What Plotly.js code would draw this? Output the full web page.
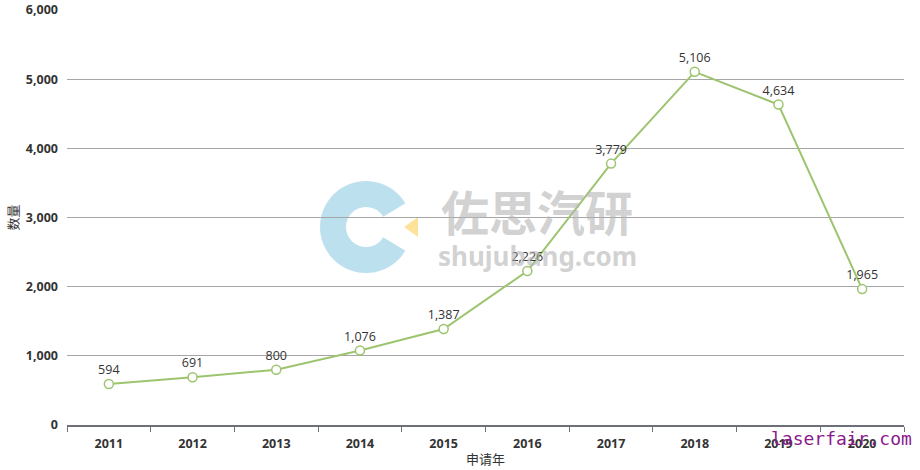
<!DOCTYPE html>
<html><head><meta charset="utf-8">
<script src="https://cdn.plot.ly/plotly-3.0.1.min.js"></script>
<style>html,body{margin:0;padding:0;background:#fff}#chart{width:920px;height:470px}</style>
</head><body><div id="chart"></div>
<script>
const years = ['2011','2012','2013','2014','2015','2016','2017','2018','2019','2020'];
const counts = [594, 691, 800, 1076, 1387, 2226, 3779, 5106, 4634, 1965];
const yTicks = [0, 1000, 2000, 3000, 4000, 5000, 6000];

const L = 67, R = 904, T = 10, B = 425;
const px = x => (x - L) / (R - L);
const py = y => (B - y) / (B - T);
const cx = 366, cy = 227, ro = 46, ri = 20;

const lineColor = '#9dc46f';
const trace = {
  x: years, y: counts, type: 'scatter', mode: 'lines+markers+text',
  text: counts.map(v => v.toLocaleString('en-US')),
  textposition: 'top center',
  textfont: {family: 'Open Sans, Noto Sans, sans-serif', size: 12.5, color: '#333'},
  line: {color: lineColor, width: 2},
  marker: {symbol: 'circle', size: 9, color: '#fff', line: {color: lineColor, width: 1.5}},
  cliponaxis: false, hoverinfo: 'x+y'
};

const shapes = [
  {type: 'circle', xref: 'paper', yref: 'paper', layer: 'below',
   x0: px(cx - ro), x1: px(cx + ro), y0: py(cy + ro), y1: py(cy - ro),
   fillcolor: '#bde0ef', line: {width: 0}},
  {type: 'circle', xref: 'paper', yref: 'paper', layer: 'below',
   x0: px(cx - ri), x1: px(cx + ri), y0: py(cy + ri), y1: py(cy - ri),
   fillcolor: '#ffffff', line: {width: 0}},
  {type: 'path', xref: 'paper', yref: 'paper', layer: 'below',
   path: `M ${px(cx)} ${py(cy)} L ${px(cx + 60)} ${py(cy - 36)} L ${px(cx + 60)} ${py(cy + 36)} Z`,
   fillcolor: '#ffffff', line: {width: 0}},
  {type: 'path', xref: 'paper', yref: 'paper', layer: 'below',
   path: `M ${px(404)} ${py(227)} L ${px(418)} ${py(217)} L ${px(418)} ${py(237)} Z`,
   fillcolor: '#fde39a', line: {width: 0}}
];

const annotations = [
  {xref: 'paper', yref: 'paper', x: px(537), y: py(210), text: '<b>佐思汽研</b>', showarrow: false,
   font: {family: 'Noto Sans CJK SC, sans-serif', size: 48, color: 'rgba(180,180,180,0.6)'}},
  {xref: 'paper', yref: 'paper', x: px(537), y: py(256), text: '<b>shujubang.com</b>', showarrow: false,
   font: {family: 'Noto Sans, sans-serif', size: 26, color: 'rgba(180,180,180,0.6)'}},
  {xref: 'paper', yref: 'paper', x: px(914), xanchor: 'right', y: py(439), yanchor: 'middle',
   text: 'laserfair.com', showarrow: false,
   font: {family: 'DejaVu Sans Mono, monospace', size: 18, color: '#8c1a8c'}}
];

const layout = {
  width: 920, height: 470,
  margin: {l: L, r: 920 - R, t: T, b: 470 - B, autoexpand: false},
  paper_bgcolor: '#fff', plot_bgcolor: '#fff',
  showlegend: false,
  font: {family: 'Open Sans, Noto Sans CJK SC, sans-serif', color: '#333'},
  xaxis: {
    type: 'category', categoryorder: 'array', categoryarray: years, range: [-0.5, 9.5],
    automargin: false,
    tickson: 'boundaries', ticks: 'outside', ticklen: 5, tickcolor: '#6e7079', tickwidth: 1,
    showline: true, linecolor: '#6e7079', linewidth: 2, showgrid: false,
    ticklabelstandoff: 6,
    tickfont: {size: 12.5, color: '#333', weight: 'bold'},
    title: {text: '申请年', font: {family: 'Noto Sans CJK SC, sans-serif', size: 13, color: '#333'}, standoff: 4},
    fixedrange: true
  },
  yaxis: {
    range: [0, 6000], tickvals: yTicks, tickformat: ',d', automargin: false,
    showgrid: true, gridcolor: '#a6a6a6', gridwidth: 1, zeroline: false,
    showline: false, ticks: '', ticklabelstandoff: 8,
    tickfont: {size: 12.5, color: '#333', weight: 'bold'},
    title: {text: '数量', font: {family: 'Noto Sans CJK SC, sans-serif', size: 13, color: '#333'}, standoff: 4},
    fixedrange: true
  },
  shapes: shapes,
  annotations: annotations
};

Plotly.newPlot('chart', [trace], layout, {displayModeBar: false, staticPlot: true});
</script></body></html>
